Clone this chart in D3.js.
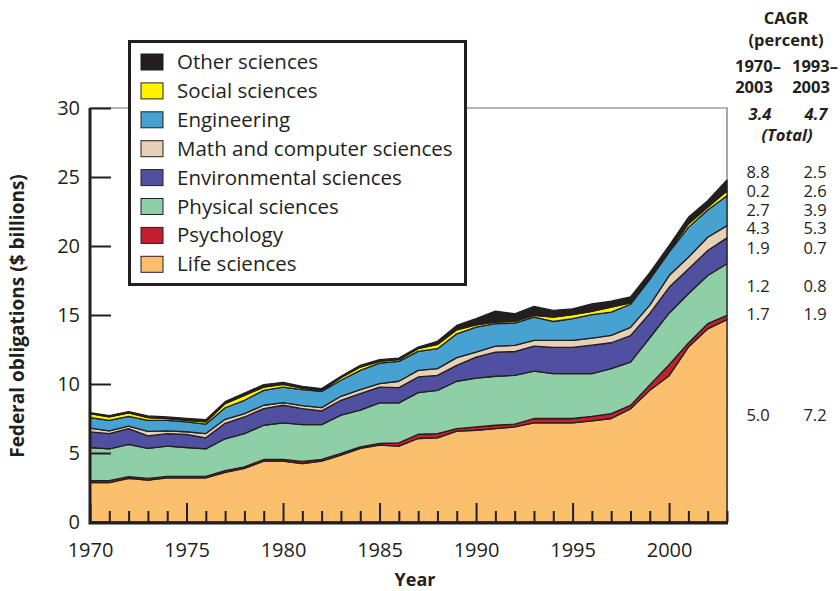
<!DOCTYPE html>
<html>
<head>
<meta charset="utf-8">
<script src="https://cdn.jsdelivr.net/npm/d3@7"></script>
<style>
  body { margin: 0; background: #fff; }
  svg text { font-family: "Open Sans", "Noto Sans", sans-serif; fill: #231f20; }
</style>
</head>
<body>
<svg id="chart" width="840" height="591"></svg>
<script>
// years on the x axis
const years = [1970,1971,1972,1973,1974,1975,1976,1977,1978,1979,
               1980,1981,1982,1983,1984,1985,1986,1987,1988,1989,
               1990,1991,1992,1993,1994,1995,1996,1997,1998,1999,
               2000,2001,2002,2003];

// federal obligations, $ billions, by field (bottom to top of the stack)
const life = [2.85,2.85,3.16,3.04,3.2,3.2,3.2,3.6,3.88,4.41,
              4.41,4.24,4.41,4.84,5.33,5.57,5.5,6.05,6.1,6.58,
              6.65,6.77,6.89,7.18,7.18,7.18,7.33,7.5,8.2,9.54,
              10.6,12.68,14.0,14.66];
const psych = [0.14,0.15,0.12,0.12,0.1,0.1,0.1,0.13,0.12,0.12,
               0.12,0.15,0.12,0.13,0.12,0.12,0.24,0.31,0.31,0.19,
               0.24,0.24,0.2,0.32,0.32,0.32,0.33,0.36,0.25,0.4,
               0.8,0.29,0.37,0.31];
const physical = [2.41,2.3,2.34,2.17,2.2,2.1,2.0,2.3,2.41,2.48,
                  2.65,2.67,2.53,2.77,2.65,2.94,2.89,3.02,3.13,3.43,
                  3.54,3.55,3.54,3.44,3.25,3.25,3.09,3.25,3.14,3.41,
                  3.73,3.57,3.49,3.74];
const environ = [1.13,1.11,1.15,0.91,0.91,0.94,0.8,1.12,1.2,1.21,
                 1.28,1.16,0.99,1.08,1.2,1.15,1.11,1.13,1.09,1.15,
                 1.52,1.75,1.72,1.81,1.91,1.91,2.06,1.88,1.91,1.77,
                 1.88,1.8,1.81,1.88];
const mathcs = [0.27,0.19,0.17,0.32,0.19,0.2,0.31,0.29,0.25,0.24,
                0.19,0.22,0.24,0.29,0.29,0.25,0.46,0.48,0.48,0.56,
                0.36,0.44,0.45,0.41,0.5,0.5,0.52,0.53,0.6,0.6,
                0.85,0.84,0.96,0.89];
const engin = [0.77,0.77,0.72,0.81,0.77,0.71,0.68,0.84,0.96,1.08,
               1.13,1.15,1.18,1.16,1.4,1.49,1.44,1.37,1.45,1.73,
               1.81,1.62,1.61,1.69,1.37,1.57,1.69,1.69,1.68,1.87,
               1.69,2.17,1.98,2.16];
const social = [0.29,0.24,0.24,0.2,0.13,0.12,0.16,0.3,0.36,0.24,
                0.2,0.12,0.07,0.19,0.24,0.12,0.12,0.2,0.31,0.29,
                0.17,0.11,0.12,0.12,0.32,0.29,0.24,0.36,0.1,0.12,
                0.12,0.25,0.19,0.36];
const other = [0.06,0.1,0.1,0.12,0.11,0.13,0.17,0.14,0.17,0.17,
               0.14,0.12,0.13,0.1,0.12,0.12,0.12,0.12,0.22,0.31,
               0.44,0.8,0.56,0.65,0.48,0.43,0.55,0.43,0.43,0.36,
               0.36,0.48,0.48,0.78];

// series names (stack order) and legend labels (top to bottom)
const keys = ["life","psych","physical","environ","mathcs","engin","social","other"];
const legendLabels = ["Other sciences","Social sciences","Engineering","Math and computer sciences",
                      "Environmental sciences","Physical sciences","Psychology","Life sciences"];
const colors = {life:"#fcbf6e", psych:"#c1202e", physical:"#8fcfa7", environ:"#5150a0",
                mathcs:"#e6d1b6", engin:"#47a2d1", social:"#fff200", other:"#231f20"};

// CAGR table (rows top to bottom match the legend)
const cagrTotal = ["3.4","4.7"];
const cagr7003 = ["8.8","0.2","2.7","4.3","1.9","1.2","1.7","5.0"];
const cagr9303 = ["2.5","2.6","3.9","5.3","0.7","0.8","1.9","7.2"];

const yTicks = [0,5,10,15,20,25,30];

// build rows for d3.stack
const series = {life, psych, physical, environ, mathcs, engin, social, other};
const rows = years.map((yr, i) => {
  const r = {year: yr};
  keys.forEach(k => r[k] = series[k][i]);
  return r;
});

const svg = d3.select("#chart");
const pLeft = 90, pRight = 727, pTop = 108, pBottom = 522;
const ink = "#231f20";

const x = d3.scaleLinear().domain([1970, 2003]).range([pLeft, pRight]);
const y = d3.scaleLinear().domain([0, 30]).range([pBottom, pTop]);

// thin frame top / right
svg.append("path")
  .attr("d", `M${pLeft},${pTop}H${pRight}V${pBottom}`)
  .attr("fill", "none").attr("stroke", "#6d6e71").attr("stroke-width", 1.2);

const stack = d3.stack().keys(keys);
const layers = stack(rows);

const area = d3.area()
  .x(d => x(d.data.year))
  .y0(d => y(d[0]))
  .y1(d => y(d[1]));

svg.append("g").selectAll("path")
  .data(layers)
  .enter().append("path")
  .attr("d", area)
  .attr("fill", d => colors[d.key])
  .attr("stroke", ink)
  .attr("stroke-width", 1.3)
  .attr("stroke-linejoin", "round");

// y axis, ticks pointing into the plot
const yAxis = svg.append("g")
  .attr("transform", `translate(${pLeft},0)`)
  .call(d3.axisLeft(y).tickValues(yTicks).tickSize(-21).tickPadding(10));
yAxis.select(".domain").remove();
yAxis.selectAll("line").attr("stroke", ink).attr("stroke-width", 2);
yAxis.selectAll("text").style("font-size", "20px").attr("fill", ink);

// x axis, every year ticked, labels on fives
const xAxis = svg.append("g")
  .attr("transform", `translate(0,${pBottom})`)
  .call(d3.axisBottom(x).tickValues(years).tickSize(-11).tickPadding(21)
        .tickFormat(d => d % 5 === 0 ? d : ""));
xAxis.select(".domain").remove();
xAxis.selectAll("line").attr("stroke", ink).attr("stroke-width", 2)
  .attr("y2", d => d % 5 === 0 ? -19 : -11);
xAxis.selectAll("text").style("font-size", "20px").attr("fill", ink);

// heavy axis lines
svg.append("path")
  .attr("d", `M${pLeft},${pTop}V${pBottom + 1}H${pRight + 1}`)
  .attr("fill", "none").attr("stroke", ink).attr("stroke-width", 3);

// axis titles
svg.append("text")
  .attr("x", 415).attr("y", 586)
  .attr("text-anchor", "middle")
  .style("font-size", "18px").style("font-weight", "bold")
  .text("Year");

svg.append("text")
  .attr("transform", "translate(24,316) rotate(-90)")
  .attr("text-anchor", "middle")
  .style("font-size", "19px").style("font-weight", "bold")
  .text("Federal obligations ($ billions)");

// legend
const lg = svg.append("g");
lg.append("rect")
  .attr("x", 129.5).attr("y", 41.5).attr("width", 336).attr("height", 243)
  .attr("fill", "#fff").attr("stroke", ink).attr("stroke-width", 3);
const legendKeys = keys.slice().reverse();
legendKeys.forEach((k, i) => {
  const cy = 62 + i * 28.9;
  lg.append("rect")
    .attr("x", 141).attr("y", cy - 8).attr("width", 22).attr("height", 16)
    .attr("fill", colors[k]).attr("stroke", ink).attr("stroke-width", 1);
  lg.append("text")
    .attr("x", 177).attr("y", cy + 7)
    .style("font-size", "20.5px")
    .text(legendLabels[i]);
});

// CAGR table
const c1 = 758, c2 = 815;
const tb = svg.append("g").style("font-size", "16.5px");
tb.append("text").attr("x", 786).attr("y", 24).attr("text-anchor", "middle")
  .style("font-weight", "bold").text("CAGR");
tb.append("text").attr("x", 786).attr("y", 46).attr("text-anchor", "middle")
  .style("font-weight", "bold").text("(percent)");
[["1970–", "2003", c1], ["1993–", "2003", c2]].forEach(h => {
  tb.append("text").attr("x", h[2]).attr("y", 72).attr("text-anchor", "middle")
    .style("font-weight", "bold").text(h[0]);
  tb.append("text").attr("x", h[2] - 4).attr("y", 93).attr("text-anchor", "middle")
    .style("font-weight", "bold").text(h[1]);
});
tb.append("text").attr("x", c1 + 2).attr("y", 120).attr("text-anchor", "middle")
  .style("font-weight", "bold").style("font-style", "italic").text(cagrTotal[0]);
tb.append("text").attr("x", c2 + 1).attr("y", 120).attr("text-anchor", "middle")
  .style("font-weight", "bold").style("font-style", "italic").text(cagrTotal[1]);
tb.append("text").attr("x", 787).attr("y", 141).attr("text-anchor", "middle")
  .style("font-weight", "bold").style("font-style", "italic").text("(Total)");

const rowY = [178, 197, 216, 234, 254, 292, 320, 421];
cagr7003.forEach((v, i) => {
  tb.append("text").attr("x", c1).attr("y", rowY[i]).attr("text-anchor", "middle").text(v);
  tb.append("text").attr("x", c2).attr("y", rowY[i]).attr("text-anchor", "middle").text(cagr9303[i]);
});
</script>
</body>
</html>
